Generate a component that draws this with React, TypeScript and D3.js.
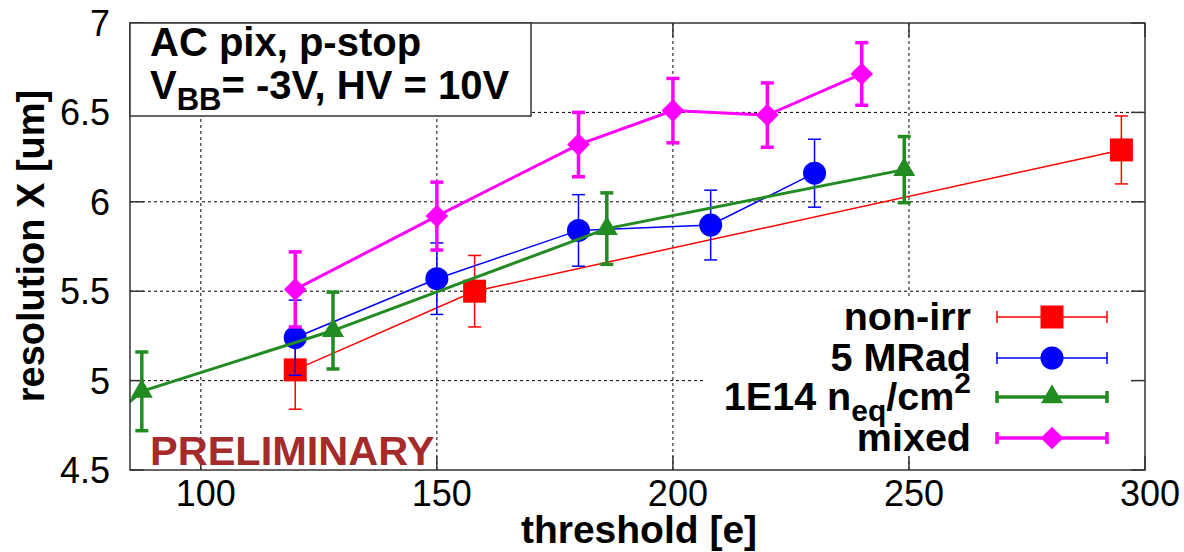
import React from 'react';
import * as d3 from 'd3';

// axis ticks
const xTicks = [100, 150, 200, 250, 300];
const yTicks = [4.5, 5, 5.5, 6, 6.5, 7];
const xGrid = [100, 150, 200, 250];
const yGrid = [5, 5.5, 6, 6.5];

// non-irr
const nonIrrThr = [120, 158, 295];
const nonIrrRes = [5.06, 5.5, 6.29];
const nonIrrErr = [0.22, 0.2, 0.19];

// 5 MRad
const mradThr = [120, 150, 180, 208, 230];
const mradRes = [5.24, 5.57, 5.84, 5.87, 6.16];
const mradErr = [0.21, 0.2, 0.2, 0.195, 0.19];

// 1E14 neq/cm2 (first point lies left of the visible range)
const neqThr = [80, 87.5, 128, 186, 249];
const neqRes = [4.77, 4.94, 5.28, 5.85, 6.18];
const neqErr = [0.22, 0.22, 0.215, 0.2, 0.185];

// mixed
const mixedThr = [120, 150, 180, 200, 220, 240];
const mixedRes = [5.51, 5.92, 6.32, 6.51, 6.485, 6.715];
const mixedErr = [0.21, 0.19, 0.18, 0.18, 0.18, 0.175];

const FONT = '"Liberation Sans", Arial, Helvetica, sans-serif';

const W = 1184;
const H = 552;
const margin = { top: 23, right: 39, bottom: 82, left: 130 };

type Pt = { x: number; y: number; e: number };
const zip = (xs: number[], ys: number[], es: number[]): Pt[] =>
  xs.map((x, i) => ({ x, y: ys[i], e: es[i] }));

const series = [
  { key: 'nonirr', color: '#ff0000', lw: 1.5, ew: 1.5, shape: 'square', data: zip(nonIrrThr, nonIrrRes, nonIrrErr) },
  { key: 'mrad', color: '#0000ff', lw: 1.5, ew: 1.5, shape: 'circle', data: zip(mradThr, mradRes, mradErr) },
  { key: 'neq', color: '#228b22', lw: 3, ew: 3.5, shape: 'triangle', data: zip(neqThr, neqRes, neqErr) },
  { key: 'mixed', color: '#ff00ff', lw: 3, ew: 3.5, shape: 'diamond', data: zip(mixedThr, mixedRes, mixedErr) },
];

const symbolPath = (shape: string) => {
  if (shape === 'square') return d3.symbol(d3.symbolSquare, 23 * 23)()!;
  if (shape === 'circle') return d3.symbol(d3.symbolCircle, Math.PI * 11.5 * 11.5)()!;
  if (shape === 'triangle') return d3.symbol(d3.symbolTriangle, (22 * 22 * Math.sqrt(3)) / 4)()!;
  return d3.symbol(d3.symbolSquare, 16 * 16)()!;
};

const Marker = ({ shape, color, cx, cy }: { shape: string; color: string; cx: number; cy: number }) => (
  <path
    d={symbolPath(shape)}
    fill={color}
    transform={`translate(${cx},${cy})${shape === 'diamond' ? ' rotate(45)' : ''}`}
  />
);

export default function App() {
  const x = d3.scaleLinear().domain([85, 300]).range([margin.left, W - margin.right]);
  const y = d3.scaleLinear().domain([4.5, 7]).range([H - margin.bottom, margin.top]);
  const [x0, x1] = x.range();
  const [y0, y1] = y.range();
  const line = d3.line<Pt>().x((d) => x(d.x)).y((d) => y(d.y));
  const cap = 6.5;
  const tick = 14;

  const legendRows = [
    { s: series[0], label: <tspan>non-irr</tspan> },
    { s: series[1], label: <tspan>5 MRad</tspan> },
    {
      s: series[2],
      label: (
        <>
          <tspan>1E14 n</tspan>
          <tspan fontSize={30} dy={11}>eq</tspan>
          <tspan dy={-11}>/cm</tspan>
          <tspan fontSize={30} dy={-17}>2</tspan>
        </>
      ),
    },
    { s: series[3], label: <tspan>mixed</tspan> },
  ];
  const legendY = [317, 358, 397, 438];

  return (
    <svg width={W} height={H} style={{ position: 'absolute', left: 0, top: 0, background: '#fff' }} fontFamily={FONT}>
      <defs>
        <clipPath id="plot-clip">
          <rect x={x0} y={y1} width={x1 - x0} height={y0 - y1} />
        </clipPath>
      </defs>
      <rect width={W} height={H} fill="#fff" />

      {/* grid */}
      <g stroke="#000" strokeWidth={1} strokeDasharray="3,3">
        {xGrid.map((t) => (
          <line key={`gx${t}`} x1={x(t)} x2={x(t)} y1={y0} y2={y1} />
        ))}
        {yGrid.map((t) => (
          <line key={`gy${t}`} x1={x0} x2={x1} y1={y(t)} y2={y(t)} />
        ))}
      </g>

      {/* key background */}
      <rect x={704} y={296} width={426} height={161} fill="#fff" />

      {/* ticks, mirrored */}
      <g stroke="#333" strokeWidth={1.5}>
        {xTicks.map((t) => (
          <g key={`tx${t}`}>
            <line x1={x(t)} x2={x(t)} y1={y0} y2={y0 - tick} />
            <line x1={x(t)} x2={x(t)} y1={y1} y2={y1 + tick} />
          </g>
        ))}
        {yTicks.map((t) => (
          <g key={`ty${t}`}>
            <line x1={x0} x2={x0 + tick} y1={y(t)} y2={y(t)} />
            <line x1={x1} x2={x1 - tick} y1={y(t)} y2={y(t)} />
          </g>
        ))}
      </g>

      {/* data */}
      <g clipPath="url(#plot-clip)">
        {series.map((s) => (
          <g key={s.key}>
            <path d={line(s.data)!} fill="none" stroke={s.color} strokeWidth={s.lw} />
            {s.data.map((d, i) => (
              <g key={i} stroke={s.color} strokeWidth={s.ew}>
                <line x1={x(d.x)} x2={x(d.x)} y1={y(d.y - d.e)} y2={y(d.y + d.e)} />
                <line x1={x(d.x) - cap} x2={x(d.x) + cap} y1={y(d.y - d.e)} y2={y(d.y - d.e)} />
                <line x1={x(d.x) - cap} x2={x(d.x) + cap} y1={y(d.y + d.e)} y2={y(d.y + d.e)} />
              </g>
            ))}
            {s.data.map((d, i) => (
              <Marker key={`m${i}`} shape={s.shape} color={s.color} cx={x(d.x)} cy={y(d.y)} />
            ))}
          </g>
        ))}
      </g>

      {/* frame */}
      <rect x={x0} y={y1} width={x1 - x0} height={y0 - y1} fill="none" stroke="#333" strokeWidth={1.5} />

      {/* title box */}
      <rect x={x0} y={y1} width={401} height={93} fill="#fff" stroke="#333" strokeWidth={1.5} />
      <text x={150} y={56} fontSize={40} fontWeight="bold">AC pix, p-stop</text>
      <text x={150} y={99} fontSize={40} fontWeight="bold">
        <tspan>V</tspan>
        <tspan fontSize={31} dy={11}>BB</tspan>
        <tspan dy={-11}>= -3V, HV = 10V</tspan>
      </text>

      {/* tick labels */}
      <g fontSize={36} fill="#000">
        {xTicks.map((t) => (
          <text key={`lx${t}`} x={x(t) + 5} y={506} textAnchor="middle">{t}</text>
        ))}
        {yTicks.map((t) => (
          <text key={`ly${t}`} x={110} y={y(t)} dy="0.36em" textAnchor="end">{t}</text>
        ))}
      </g>

      {/* axis titles */}
      <text x={639} y={543} fontSize={39} fontWeight="bold" textAnchor="middle">threshold [e]</text>
      <text transform="translate(44,246) rotate(-90)" fontSize={38} fontWeight="bold" textAnchor="middle">resolution X [um]</text>

      {/* legend */}
      {legendRows.map((r, i) => {
        const cy = legendY[i];
        return (
          <g key={r.s.key}>
            <text x={971} y={cy + 13} fontSize={39.5} fontWeight="bold" textAnchor="end">{r.label}</text>
            <g stroke={r.s.color} strokeWidth={r.s.ew}>
              <line x1={997} x2={1107} y1={cy} y2={cy} />
              <line x1={997} x2={997} y1={cy - 6} y2={cy + 6} />
              <line x1={1107} x2={1107} y1={cy - 6} y2={cy + 6} />
            </g>
            <Marker shape={r.s.shape} color={r.s.color} cx={1052} cy={cy} />
          </g>
        );
      })}

      <text x={150} y={465} fontSize={41.5} fontWeight="bold" fill="#a52a2a">PRELIMINARY</text>
    </svg>
  );
}
